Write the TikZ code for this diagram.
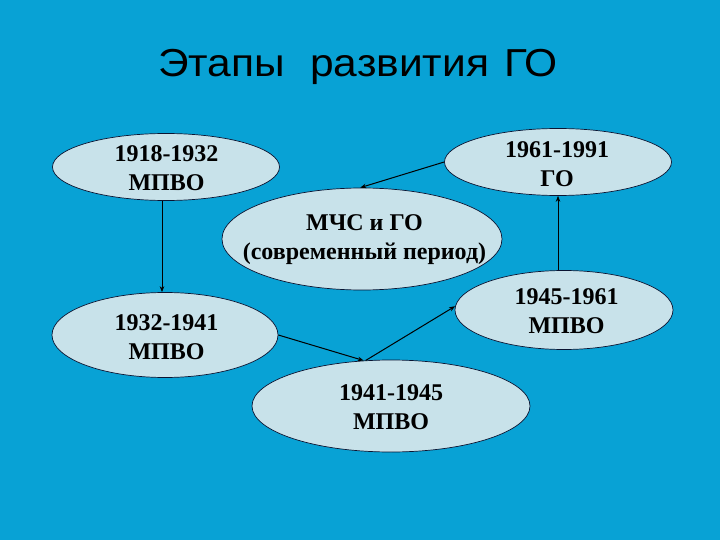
\documentclass[tikz,border=0pt]{standalone}
\usepackage{fontspec}
\usepackage{graphicx}
\setmainfont{Liberation Serif}
\newfontfamily\titlefont{Liberation Sans}
\usetikzlibrary{shapes.geometric,arrows.meta}
\definecolor{bgblue}{RGB}{8,162,213}
\definecolor{ellfill}{RGB}{200,226,234}
\definecolor{ellline}{RGB}{10,20,50}
\tikzset{
  period/.style={ellipse, draw=ellline, line width=0.7pt, fill=ellfill, inner sep=0pt},
  ptext/.style={font=\fontsize{24}{29}\selectfont\bfseries, align=center, inner sep=0pt, text=black},
  conn/.style={draw=black, line width=1pt, -{Stealth[length=6pt,width=4.5pt]}},
  vconn/.style={draw=black, line width=0.7pt, -{Stealth[length=6pt,width=4.5pt]}},
}
\begin{document}
\begin{tikzpicture}[x=1pt,y=-1pt]
\fill[bgblue] (0,0) rectangle (720,540);
\useasboundingbox (0,0) rectangle (720,540);
\node[font=\titlefont\fontsize{39}{44}\selectfont, anchor=base west, inner sep=0pt] (title) at (158,77) {\scalebox{1.09}[1]{\makebox[139.5pt][l]{Этапы}\makebox[178pt][l]{развития}ГО}};

\node[period, minimum width=227pt, minimum height=67pt] (a) at (166,167) {};
\node[period, minimum width=227pt, minimum height=67pt] (f) at (558,162) {};
\node[period, minimum width=280pt, minimum height=102pt] (c) at (362,239) {};
\node[period, minimum width=226pt, minimum height=85pt] (b) at (165,335) {};
\node[period, minimum width=218pt, minimum height=79pt] (e) at (564,310) {};
\node[period, minimum width=278pt, minimum height=92pt] (d) at (391,406) {};

\node[ptext] (ta) at (166.5,168) {1918-1932\\МПВО};
\node[ptext] (tf) at (557,164) {1961-1991\\ГО};
\node[ptext] (tc) at (364.5,240) {МЧС и ГО\\(современный период)};
\node[ptext] (tb) at (166.5,337) {1932-1941\\МПВО};
\node[ptext] (te) at (566.5,311) {1945-1961\\МПВО};
\node[ptext] (td) at (391,407) {1941-1945\\МПВО};

\draw[vconn] ([xshift=-4pt]a.south) -- ([xshift=-4pt]a.south |- b.north);
\draw[conn] (b.east) -- (d.121);
\draw[conn] (d.119) -- (e.178);
\draw[vconn] (e.north -| f.south) -- (f.south);
\draw[conn] (f.west) -- (c.92);
\end{tikzpicture}
\end{document}
